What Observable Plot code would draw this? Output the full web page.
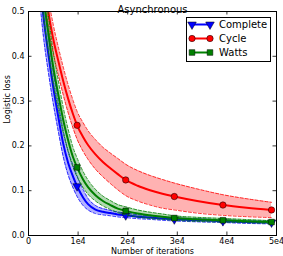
<!DOCTYPE html>
<html>
<head>
<meta charset="utf-8">
<script src="https://cdn.jsdelivr.net/npm/d3@7"></script>
<script src="https://cdn.jsdelivr.net/npm/@observablehq/plot@0.6"></script>
<style>
  html, body { margin: 0; padding: 0; background: #fff; }
  #chart { position: relative; width: 283px; height: 256px; }
</style>
</head>
<body>
<div id="chart"></div>
<script>
// ---- data ----
const iterations = [2000, 2500, 3000, 4000, 5000, 6000, 7000, 8000, 9000, 9800, 11000, 12000, 13500, 15000, 16500, 18000, 19600, 22000, 24500, 27000, 29400, 34000, 39200, 44000, 49000];
const markerIterations = [9800, 19600, 29400, 39200, 49000];
const seriesNames = ["Complete", "Cycle", "Watts"];
const seriesColors = ["#0000ff", "#ff0000", "#008000"];
const seriesSymbols = ["triangle", "circle", "square"];

const completeMean   = [0.60, 0.545, 0.49, 0.405, 0.33, 0.265, 0.205, 0.162, 0.131, 0.110, 0.085, 0.070, 0.058, 0.053, 0.050, 0.047, 0.045, 0.042, 0.040, 0.038, 0.036, 0.034, 0.032, 0.030, 0.029];
const completeSpread = [0.05, 0.048, 0.045, 0.040, 0.036, 0.032, 0.029, 0.027, 0.025, 0.023, 0.018, 0.013, 0.009, 0.007, 0.006, 0.0055, 0.005, 0.0045, 0.004, 0.004, 0.0035, 0.0035, 0.003, 0.003, 0.003];

const cycleMean   = [0.69, 0.645, 0.60, 0.50, 0.438, 0.39, 0.345, 0.305, 0.27, 0.246, 0.22, 0.202, 0.181, 0.164, 0.150, 0.137, 0.124, 0.111, 0.101, 0.093, 0.087, 0.077, 0.068, 0.062, 0.057];
const cycleSpread = [0.04, 0.038, 0.035, 0.033, 0.032, 0.031, 0.031, 0.031, 0.031, 0.031, 0.032, 0.032, 0.033, 0.033, 0.034, 0.035, 0.035, 0.034, 0.033, 0.032, 0.030, 0.027, 0.023, 0.020, 0.017];

const wattsMean   = [0.65, 0.59, 0.535, 0.452, 0.375, 0.315, 0.258, 0.212, 0.174, 0.152, 0.125, 0.108, 0.090, 0.077, 0.068, 0.060, 0.055, 0.049, 0.045, 0.042, 0.039, 0.036, 0.034, 0.032, 0.030];
const wattsSpread = [0.05, 0.048, 0.045, 0.040, 0.035, 0.031, 0.028, 0.025, 0.022, 0.021, 0.018, 0.016, 0.013, 0.011, 0.010, 0.009, 0.009, 0.008, 0.007, 0.006, 0.005, 0.0045, 0.004, 0.0035, 0.003];

const xTicks = [0, 10000, 20000, 30000, 40000, 50000];
const xTickLabels = ["0", "1e4", "2e4", "3e4", "4e4", "5e4"];
const yTicks = [0.0, 0.1, 0.2, 0.3, 0.4, 0.5];
const yTickLabels = ["0.0", "0.1", "0.2", "0.3", "0.4", "0.5"];
const titleText = "Asynchronous";
const xLabel = "Number of iterations";
const yLabel = "Logistic loss";

// ---- build table ----
const means = [completeMean, cycleMean, wattsMean];
const spreads = [completeSpread, cycleSpread, wattsSpread];
const rows = [];
seriesNames.forEach((name, s) => {
  iterations.forEach((it, i) => {
    rows.push({series: name, iter: it, mean: means[s][i], lo: means[s][i] - spreads[s][i], hi: means[s][i] + spreads[s][i]});
  });
});
const markerRows = rows.filter(r => markerIterations.includes(r.iter));

const W = 283, H = 256;
const mL = 28, mR = 7, mT = 11, mB = 21;
const innerW = W - mL - mR, innerH = H - mT - mB;
const tickLen = 3.5;

const marks = [];
seriesNames.forEach((name, s) => {
  const d = rows.filter(r => r.series === name);
  const color = seriesColors[s];
  marks.push(Plot.line(d, {x: "iter", y: "mean", stroke: color, strokeWidth: 2, curve: "monotone-x", clip: true}));
  marks.push(Plot.areaY(d, {x: "iter", y1: "lo", y2: "hi", fill: color, fillOpacity: 0.3, curve: "monotone-x", clip: true}));
  marks.push(Plot.line(d, {x: "iter", y: "lo", stroke: color, strokeWidth: 0.8, strokeDasharray: "3,2", curve: "monotone-x", clip: true}));
  marks.push(Plot.line(d, {x: "iter", y: "hi", stroke: color, strokeWidth: 0.8, strokeDasharray: "3,2", curve: "monotone-x", clip: true}));
  marks.push(Plot.dot(markerRows.filter(r => r.series === name), {
    x: "iter", y: "mean", symbol: seriesSymbols[s], r: 3.2, fill: color, stroke: "#000", strokeWidth: 0.5,
    rotate: s === 0 ? 180 : 0
  }));
});

const chart = Plot.plot({
  width: W, height: H,
  marginLeft: mL, marginRight: mR, marginTop: mT, marginBottom: mB,
  style: {fontFamily: "DejaVu Sans", fontSize: "8px", color: "#000", background: "#fff", overflow: "visible"},
  x: {domain: [0, 50000], label: null},
  y: {domain: [0, 0.5], label: null},
  marks: [
    ...marks,
    // inward ticks on all four sides
    Plot.ruleX(xTicks, {x: d => d, insetTop: innerH - tickLen, stroke: "#000", strokeWidth: 0.8}),
    Plot.ruleX(xTicks, {x: d => d, insetBottom: innerH - tickLen, stroke: "#000", strokeWidth: 0.8}),
    Plot.ruleY(yTicks, {y: d => d, insetRight: innerW - tickLen, stroke: "#000", strokeWidth: 0.8}),
    Plot.ruleY(yTicks, {y: d => d, insetLeft: innerW - tickLen, stroke: "#000", strokeWidth: 0.8}),
    Plot.axisX({ticks: xTicks, tickFormat: d => xTickLabels[xTicks.indexOf(d)], tickSize: 0, tickPadding: 3, label: null}),
    Plot.axisY({ticks: yTicks, tickFormat: d => yTickLabels[yTicks.findIndex(t => Math.abs(t - d) < 1e-9)], tickSize: 0, tickPadding: 4, label: null}),
    Plot.frame({stroke: "#000", strokeWidth: 1}),
    Plot.text([titleText], {frameAnchor: "top", dy: -6, fontSize: 10, fill: "#000"}),
    Plot.text([xLabel], {frameAnchor: "bottom", dy: 18, fontSize: 8, fill: "#000"}),
    Plot.text([yLabel], {frameAnchor: "left", dx: -21, rotate: -90, fontSize: 8, fill: "#000"})
  ]
});

document.getElementById("chart").appendChild(chart);

// ---- legend (inside top-right of the frame) ----
const svg = d3.select(chart);
const lg = svg.append("g").attr("font-family", "DejaVu Sans").attr("font-size", 10).attr("text-anchor", "start");
const bx = 186.5, by = 17.5, bw = 84, bh = 44;
lg.append("rect").attr("x", bx).attr("y", by).attr("width", bw).attr("height", bh)
  .attr("fill", "#fff").attr("stroke", "#000").attr("stroke-width", 1);
seriesNames.forEach((name, s) => {
  const yy = 24.5 + s * 14;
  const x1 = 192, x2 = 210;
  lg.append("line").attr("x1", x1).attr("x2", x2).attr("y1", yy).attr("y2", yy)
    .attr("stroke", seriesColors[s]).attr("stroke-width", 2);
  [x1, x2].forEach(xx => {
    const sym = d3.symbol().type(s === 0 ? d3.symbolTriangle : s === 1 ? d3.symbolCircle : d3.symbolSquare).size(3.2 * 3.2 * Math.PI);
    lg.append("path").attr("d", sym()).attr("transform", `translate(${xx},${yy}) rotate(${s === 0 ? 180 : 0})`)
      .attr("fill", seriesColors[s]).attr("stroke", "#000").attr("stroke-width", 0.5);
  });
  lg.append("text").attr("x", 219).attr("y", yy).attr("dy", "0.35em").attr("text-anchor", "start").attr("fill", "#000").text(name);
});
</script>
</body>
</html>
